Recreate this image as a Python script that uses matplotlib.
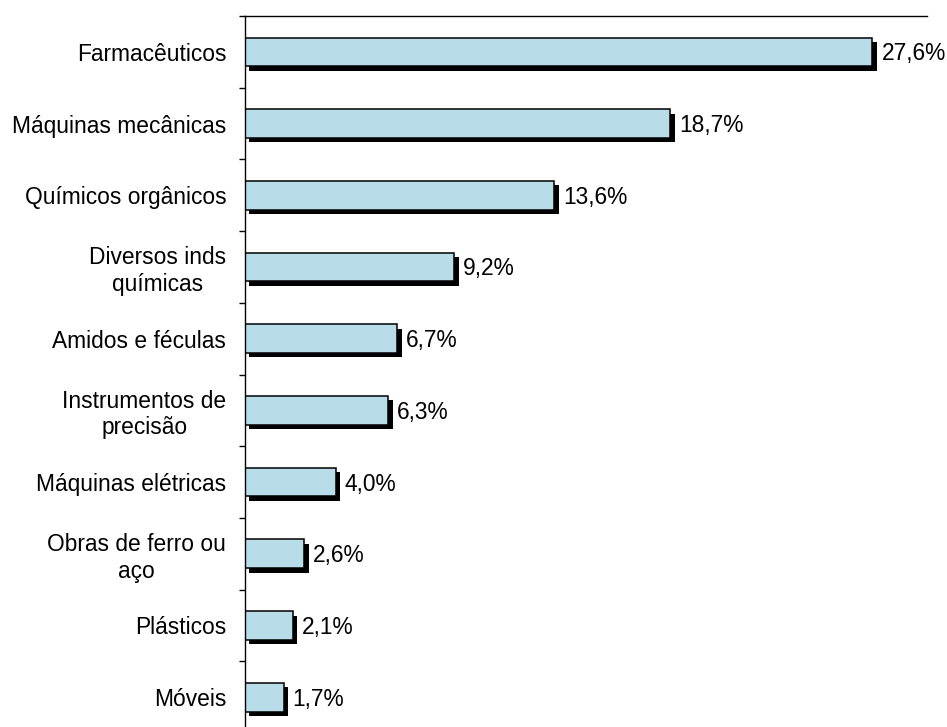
import matplotlib.pyplot as plt
import matplotlib.patheffects as pe
import numpy as np

plt.rcParams['font.family'] = ['Liberation Sans', 'DejaVu Sans']

categorias = ["Farmacêuticos", "Máquinas mecânicas", "Químicos orgânicos",
              "Diversos inds\nquímicas", "Amidos e féculas",
              "Instrumentos de\nprecisão", "Máquinas elétricas",
              "Obras de ferro ou\naço", "Plásticos", "Móveis"]
participacao = [27.6, 18.7, 13.6, 9.2, 6.7, 6.3, 4.0, 2.6, 2.1, 1.7]

fig = plt.figure(figsize=(9.47, 7.27), dpi=100)
ax = fig.add_axes([0.2587, -0.0083, 0.7202, 0.9863])

pos = np.arange(len(categorias))
barras = ax.barh(pos, participacao, height=0.4, color='#B8DDE8',
                 edgecolor='black', linewidth=1.1)
for b in barras:
    b.set_path_effects([pe.SimplePatchShadow(offset=(3.2, -3.2),
                                             shadow_rgbFace='black', alpha=1.0),
                        pe.Normal()])

for y, v in zip(pos, participacao):
    ax.annotate(f"{v:.1f}%".replace('.', ','), (v, y), xytext=(9, -2),
                textcoords='offset pixels', va='center', ha='left',
                fontsize=16.4)

ax.set_xlim(0, 30)
ax.set_ylim(len(categorias) - 0.5, -0.5)

ax.set_yticks(pos)
ax.set_yticklabels(categorias, fontsize=16.4, multialignment='center')
for t in ax.get_yticklabels():
    t.set_linespacing(1.2)
ax.set_yticks(np.arange(len(categorias) + 1) - 0.5, minor=True)
ax.tick_params(axis='y', which='major', length=0, pad=13.5)
ax.tick_params(axis='y', which='minor', length=4, width=1, direction='out')
ax.set_xticks([])

ax.spines['right'].set_visible(False)
ax.spines['bottom'].set_visible(False)
ax.spines['left'].set_linewidth(1)
ax.spines['top'].set_linewidth(1)

fig.savefig('out.png', dpi=100)
